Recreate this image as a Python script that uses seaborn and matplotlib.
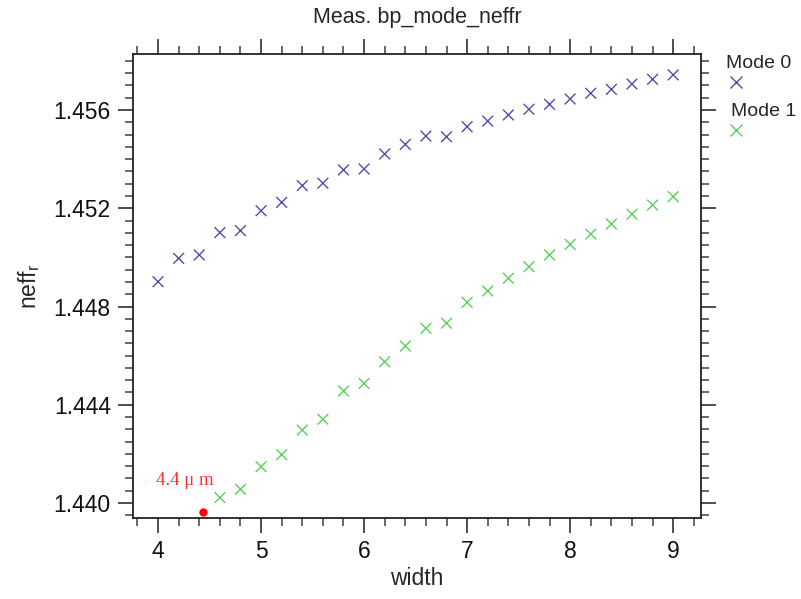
import numpy as np
import pandas as pd
import seaborn as sns
import matplotlib.pyplot as plt
from matplotlib.ticker import MultipleLocator

# measured effective index vs waveguide width
width_mode0 = [4.0, 4.2, 4.4, 4.6, 4.8, 5.0, 5.2, 5.4, 5.6, 5.8, 6.0, 6.2, 6.4,
               6.6, 6.8, 7.0, 7.2, 7.4, 7.6, 7.8, 8.0, 8.2, 8.4, 8.6, 8.8, 9.0]
neff_mode0 = [1.44901, 1.44996, 1.45010, 1.45101, 1.45109, 1.45190, 1.45224,
              1.45292, 1.45302, 1.45356, 1.45360, 1.45421, 1.45460, 1.45494,
              1.45491, 1.45532, 1.45555, 1.45580, 1.45603, 1.45623, 1.45645,
              1.45668, 1.45684, 1.45706, 1.45725, 1.45743]

width_mode1 = [4.6, 4.8, 5.0, 5.2, 5.4, 5.6, 5.8, 6.0, 6.2, 6.4, 6.6, 6.8,
               7.0, 7.2, 7.4, 7.6, 7.8, 8.0, 8.2, 8.4, 8.6, 8.8, 9.0]
neff_mode1 = [1.44022, 1.44056, 1.44148, 1.44197, 1.44297, 1.44341, 1.44456,
              1.44487, 1.44575, 1.44639, 1.44711, 1.44732, 1.44817, 1.44863,
              1.44915, 1.44962, 1.45010, 1.45053, 1.45095, 1.45136, 1.45176,
              1.45213, 1.45247]

mode_names = ["Mode 0", "Mode 1"]
mode_colors = ["#4f4fa6", "#5ccf5c"]

cutoff_width = [4.44]
cutoff_neff = [1.43963]
cutoff_label = "4.4 \u03bc m"

df = pd.concat([
    pd.DataFrame({"width": width_mode0, "neff": neff_mode0, "mode": mode_names[0]}),
    pd.DataFrame({"width": width_mode1, "neff": neff_mode1, "mode": mode_names[1]}),
])

sns.set_style("ticks")
plt.rcParams["font.family"] = ["Liberation Sans", "DejaVu Sans"]
plt.rcParams["mathtext.default"] = "regular"

fig = plt.figure(figsize=(8.01, 5.99), dpi=100)
ax = fig.add_axes([133 / 801, 1 - 518 / 599, 568 / 801, 464 / 599])

palette = dict(zip(mode_names, mode_colors))
sns.scatterplot(data=df, x="width", y="neff", hue="mode", palette=palette,
                marker="x", s=60, linewidth=1.0, legend=False, ax=ax)

ax.plot(cutoff_width, cutoff_neff, "o", color="red", markersize=5, clip_on=False)
ax.annotate(cutoff_label, (cutoff_width[0], cutoff_neff[0]),
            xytext=(-34, 23), textcoords="offset points", ha="left", va="center",
            color="#ff3030", fontsize=13.5, family=["Liberation Serif", "DejaVu Serif"])

ax.set_xlim(3.757, 9.27)
ax.set_ylim(1.43939, 1.45828)
ax.xaxis.set_major_locator(MultipleLocator(1))
ax.xaxis.set_minor_locator(MultipleLocator(0.2))
ax.yaxis.set_major_locator(MultipleLocator(0.004))
ax.yaxis.set_minor_locator(MultipleLocator(0.0005))
ax.yaxis.set_major_formatter(plt.FormatStrFormatter("%.3f"))

ax.tick_params(which="both", direction="out", top=True, right=True,
               color="#404040", labelsize=16.5, labelcolor="#111111")
ax.tick_params(which="major", length=11, width=1.3, pad=5)
ax.tick_params(which="minor", length=6, width=1.1)
for s in ax.spines.values():
    s.set_linewidth(1.3)
    s.set_color("#222222")

ax.set_xlabel("width", fontsize=16.5, labelpad=3)
ax.set_ylabel("neff$_{r}$", fontsize=16.5, labelpad=8)
fig.text(417 / 801, 1 - 18 / 599, "Meas. bp_mode_neffr", fontsize=15.5,
         ha="center", va="center")

# legend laid out as label above marker, outside the axes
legend_text_pos = [(726 / 801, 1 - 63 / 599), (731 / 801, 1 - 111 / 599)]
legend_mark_pos = [(736 / 801, 1 - 82 / 599), (736 / 801, 1 - 130 / 599)]
for name, color, tpos, mpos in zip(mode_names, mode_colors, legend_text_pos, legend_mark_pos):
    fig.text(tpos[0], tpos[1], name, fontsize=14, ha="left", va="center")
    ax.plot([mpos[0]], [mpos[1]], "x", color=color, markersize=8, mew=1.0,
            transform=fig.transFigure, clip_on=False)

fig.savefig("out.png", dpi=100)
